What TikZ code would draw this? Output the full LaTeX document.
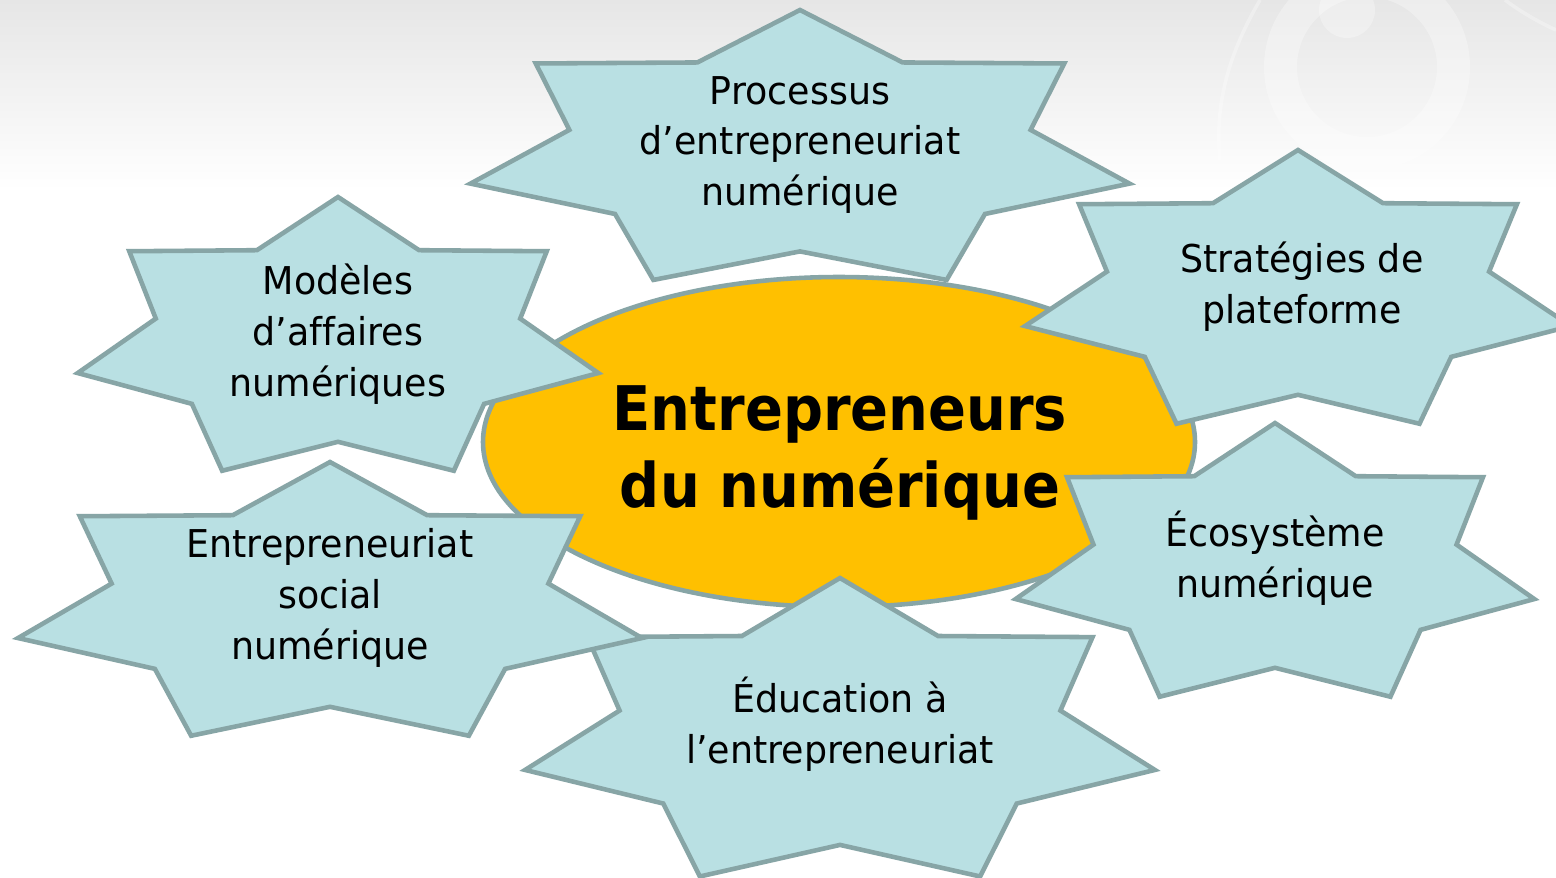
\documentclass[tikz,border=0pt]{standalone}
\usepackage{fontspec}
\setmainfont{DejaVu Sans}[FakeStretch=0.95, Ligatures=NoCommon]
\newfontfamily\hubfont{DejaVu Sans}[FakeStretch=0.91]
\usepackage{xcolor}
\usepackage{tikz}
\usetikzlibrary{shapes.geometric}

\definecolor{starfill}{HTML}{B9E0E3}
\definecolor{starline}{HTML}{87A5A6}
\definecolor{hubfill}{HTML}{FFC000}
\definecolor{bgtop}{HTML}{E6E6E6}

\tikzset{
    starbox/.style={fill=starfill, draw=starline, line width=2.6pt},
    hubbox/.style={fill=hubfill, draw=starline, line width=2.6pt},
    startext/.style={align=center, inner sep=0pt, font=\fontsize{21.8}{29}\selectfont},
    hubtext/.style={align=center, inner sep=0pt, font=\hubfont\bfseries\fontsize{35}{43.7}\selectfont},
    swirl/.style={white, opacity=0.3}
}

% seven pointed star: centre x, centre y, x radius, y radius
\newcommand{\septstar}[4]{%
    \filldraw[starbox, shift={(#1,#2)}] plot[samples at={0,...,13}]
        ({(1-0.3*mod(\x,2))*#3*cos(90+\x*360/14)}, {(1-0.3*mod(\x,2))*#4*sin(90+\x*360/14)}) -- cycle;
}

\begin{document}
\begin{tikzpicture}
        \useasboundingbox (0, 0) rectangle (31.12, -17.54);
        \clip (0, 0) rectangle (31.12, -17.54);

        \fill[white] (0, 0) rectangle (31.12, -17.54);
        \fill[top color = bgtop, bottom color = white] (0, 0) rectangle (31.12, -3.8);
        \draw[swirl, line width = 0.66cm] (27.34, -1.34) circle (1.73);
        \fill[swirl] (26.94, -0.2) circle (0.56);
        \draw[swirl, line width = 2pt] (25.2, 0) .. controls (24.5, -1.2) and (24.3, -2.2) .. (24.4, -3.2);
        \draw[swirl, line width = 2pt] (30.1, 0) .. controls (30.5, -0.3) and (30.9, -0.5) .. (31.12, -0.6);

        \filldraw[hubbox] (16.78, -8.84) ellipse (7.12 and 3.3);

        \septstar{16.0}{-3.04}{6.76}{2.84}
        \septstar{25.96}{-5.88}{5.6}{2.88}
        \septstar{25.5}{-11.34}{5.32}{2.88}
        \septstar{16.8}{-14.7}{6.46}{3.14}
        \septstar{6.6}{-12.12}{6.4}{2.88}
        \septstar{6.76}{-6.82}{5.34}{2.88}

        \node[hubtext] (hub) at (16.8, -9.06) {Entrepreneurs\\du numérique};

        \node[startext] (processus) at (16.0, -2.9) {Processus\\d’entrepreneuriat\\numérique};
        \node[startext] (strategies) at (26.04, -5.74) {Stratégies de\\plateforme};
        \node[startext] (ecosysteme) at (25.5, -11.16) {Écosystème\\numérique};
        \node[startext] (education) at (16.8, -14.48) {Éducation à\\l’entrepreneuriat};
        \node[startext] (social) at (6.6, -11.96) {Entrepreneuriat\\social\\numérique};
        \node[startext] (modeles) at (6.76, -6.68) {Modèles\\d’affaires\\numériques};
\end{tikzpicture}
\end{document}
